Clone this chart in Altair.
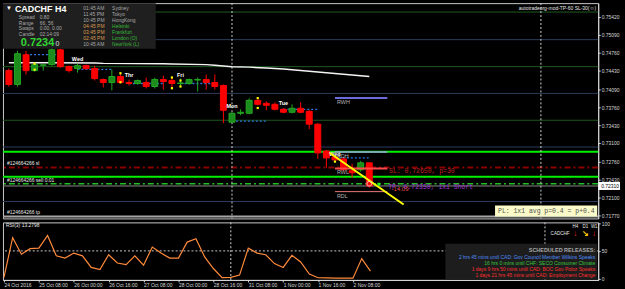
import altair as alt
import pandas as pd

SANS = "Liberation Sans"
MONO = "Liberation Mono"

# ---------------- data ----------------
BAR_IDX = list(range(43))
OPEN = [0.74430, 0.74175, 0.74722, 0.74430, 0.74530, 0.74540, 0.74813, 0.74503, 0.74467, 0.74521,
        0.74467, 0.74266, 0.74212, 0.74321, 0.74212, 0.74193, 0.74212, 0.74138, 0.74266, 0.74248,
        0.74193, 0.74193, 0.74257, 0.74266, 0.74212, 0.74157, 0.73482, 0.73646, 0.73646, 0.73884,
        0.73829, 0.73811, 0.73720, 0.73665, 0.73738, 0.73683, 0.73446, 0.72953, 0.72844, 0.72808,
        0.72589, 0.72607, 0.72735]
HIGH = [0.74467, 0.74795, 0.74795, 0.74576, 0.74558, 0.74868, 0.74831, 0.74521, 0.74558, 0.74540,
        0.74521, 0.74284, 0.74448, 0.74376, 0.74266, 0.74266, 0.74303, 0.74303, 0.74339, 0.74321,
        0.74284, 0.74284, 0.74303, 0.74357, 0.74357, 0.74175, 0.73665, 0.73720, 0.73920, 0.73902,
        0.73865, 0.73847, 0.73738, 0.73811, 0.73847, 0.73701, 0.73464, 0.72972, 0.72862, 0.72826,
        0.72716, 0.72771, 0.72735]
LOW = [0.74138, 0.74138, 0.74357, 0.74412, 0.74430, 0.74521, 0.74485, 0.74394, 0.74394, 0.74448,
       0.74248, 0.74120, 0.74066, 0.74193, 0.74157, 0.74175, 0.74102, 0.74102, 0.74084, 0.74102,
       0.74138, 0.74175, 0.74047, 0.74084, 0.74084, 0.73464, 0.73473, 0.73610, 0.73628, 0.73793,
       0.73701, 0.73701, 0.73646, 0.73646, 0.73646, 0.73354, 0.72808, 0.72644, 0.72789, 0.72589,
       0.72461, 0.72571, 0.72279]
CLOSE = [0.74175, 0.74740, 0.74430, 0.74540, 0.74535, 0.74813, 0.74503, 0.74430, 0.74521, 0.74467,
         0.74284, 0.74212, 0.74321, 0.74212, 0.74193, 0.74248, 0.74138, 0.74266, 0.74230, 0.74193,
         0.74203, 0.74266, 0.74266, 0.74212, 0.74138, 0.73701, 0.73646, 0.73665, 0.73884, 0.73811,
         0.73793, 0.73720, 0.73665, 0.73738, 0.73665, 0.73446, 0.72918, 0.72826, 0.72789, 0.72607,
         0.72552, 0.72735, 0.72310]

MA_IDX = [0, 5, 10, 11, 18, 19, 23, 24, 26, 28, 30, 32, 34, 36, 38, 40, 42]
MA_VAL = [0.74576, 0.74576, 0.74572, 0.74563, 0.74558, 0.74552, 0.74540, 0.74527, 0.74503,
          0.74494, 0.74476, 0.74458, 0.74430, 0.74403, 0.74376, 0.74349, 0.74321]

RSI_VAL = [2, 74, 44, 54, 55, 78, 41, 37, 46, 41, 20, 16, 43, 28, 25, 41, 24, 57, 46, 37,
           37, 66, 72, 39, 18, 1.5, 1.8, 6, 55, 46, 43, 27, 20, 42, 30, 8, 1.2, 0.9, 0.5, 0.4,
           0.4, 36, 13.28]

TICK_IDX = [0, 4, 8, 12, 16, 20, 24, 28, 32, 36, 40]
TICK_LABELS = ["24 Oct 2016", "25 Oct 08:00", "26 Oct 00:00", "26 Oct 16:00", "27 Oct 08:00",
               "28 Oct 00:00", "28 Oct 16:00", "31 Oct 08:00", "1 Nov 00:00", "1 Nov 16:00",
               "2 Nov 08:00"]
PRICE_TICKS = [0.75420, 0.75090, 0.74760, 0.74430, 0.74090, 0.73760, 0.73430, 0.73100,
               0.72760, 0.72430, 0.72100, 0.71770]
RSI_TICKS = [0, 50, 100]

PERIOD_SEPARATORS = [26, 62]
DARK_GREEN_LEVELS = [0.75506, 0.74503, 0.73518]
SLATE_LEVELS = [0.74999, 0.74011, 0.73026, 0.72024]
BRIGHT_GREEN_LEVELS = [0.72941, 0.72480]
SL_LEVEL = 0.72650
ENTRY_LEVEL = 0.72350
TP_LEVEL = 0.71750
BID = 0.72310

DAY_SEG_START = [2, 8, 14, 20, 26, 32, 38]
DAY_SEG_END = [6, 12, 18, 24, 30, 36, 42]
DAY_SEG_PRICE = [0.74722, 0.74454, 0.74193, 0.74193, 0.73500, 0.73719, 0.72826]

FRACTAL_IDX = [3, 3, 13, 13, 19, 19, 20, 20, 29, 29, 38]
FRACTAL_PRICE = [0.74558, 0.74448, 0.74381, 0.74217, 0.74303, 0.74107, 0.74248, 0.74138,
                 0.73925, 0.73743, 0.72758]

DAY_NAMES = ["Wed", "Thr", "Fri", "Mon", "Tue", "Wed"]
DAY_NAME_IDX = [8, 14, 20, 26, 32, 38]
DAY_NAME_PRICE = [0.74649, 0.74348, 0.74357, 0.73774, 0.73829, 0.72899]

RANGE_NAMES = ["RWH", "RDH", "RWL", "RDL"]
RANGE_PRICE = [0.73925, 0.72935, 0.72631, 0.72206]
RANGE_START = 38
RANGE_END = 44.1

TREND_IDX = [37.4, 46.0]
TREND_PRICE = [0.72917, 0.71969]
ENTRY_MARK_IDX = 42
ENTRY_MARK_PRICE = 0.72352
ARROW_IDX = 43.1
ARROW_PRICE = 0.72343

SL_TEXT = "SL: 0.72650, p=30"
TP_TEXT = "TP: 0.72350, 1x1 Short"
PNL_TEXT = "-14.09"
ORDER_LABELS = ["#124664266 sl", "#124664266 sell 0.01", "#124664266 tp"]

HUD_SYMBOL = "CADCHF  H4"
HUD_KEYS = ["Spread", "Range", "Swaps", "Candle"]
HUD_VALUES = ["0.80", "66, 56", "0.00, 0.00", "02:14:09"]
HUD_PRICE = "0.7234"
HUD_PRICE_LAST = "0"
HUD_TIMES = ["01:45 AM", "11:45 PM", "10:45 PM", "04:45 PM", "03:45 PM", "02:45 PM", "10:45 AM"]
HUD_CITIES = ["Sydney", "Tokyo", "HongKong", "Helsinki", "Frankfurt", "London  (O)", "NewYork  (L)"]
EA_TEXT = "autotradeorg-mod-TP-60 SL-30(\u263a)"
PL_TEXT = "PL: 1x1 avg p=0.4 = p+0.4"

RSI_TITLE = "RSI(3) 13.2798"
TF_NAMES = ["H4", "D1", "W1"]
TF_ARROWS = ["\u2193", "\u2198", "\u2193"]
RELEASES = ["SCHEDULED RELEASES:",
            "2 hrs 45 mins until CAD: Gov Council Member Wilkins Speaks",
            "16 hrs 0 mins until CHF: SECO Consumer Climate",
            "1 days 9 hrs 50 mins until CAD: BOC Gov Poloz Speaks",
            "1 days 21 hrs 45 mins until CAD: Employment Change"]

# ---------------- tables ----------------
candles = pd.DataFrame({"idx": BAR_IDX, "open": OPEN, "high": HIGH, "low": LOW, "close": CLOSE})
up = candles[candles["close"] >= candles["open"]]
down = candles[candles["close"] < candles["open"]]
ma = pd.DataFrame({"idx": MA_IDX, "p": MA_VAL})
rsi = pd.DataFrame({"idx": BAR_IDX, "v": RSI_VAL})
ONE = pd.DataFrame({"k": [0]})

W = 600
H_MAIN = 217
H_RSI = 58

X_SCALE = alt.Scale(domain=[-0.11, 68.1], nice=False, zero=False)
Y_SCALE = alt.Scale(domain=[0.71714, 0.75670], nice=False, zero=False)
R_SCALE = alt.Scale(domain=[-2.7, 101.8], nice=False, zero=False)

Y_AXIS = alt.Axis(orient="right", values=PRICE_TICKS, format=".5f", labelFontSize=5,
                  labelColor="#d8d8d8", tickColor="#d8d8d8", tickSize=2, labelPadding=1,
                  domainColor="#d8d8d8", title=None, grid=False, labelFont=SANS)
R_AXIS = alt.Axis(orient="right", values=RSI_TICKS, format="d", labelFontSize=5,
                  labelColor="#d8d8d8", tickColor="#d8d8d8", tickSize=2, labelPadding=1,
                  domainColor="#d8d8d8", title=None, grid=False, labelFont=SANS)
label_arr = "[" + ",".join("'" + s + "'" for s in TICK_LABELS) + "]"
X_AXIS_R = alt.Axis(values=TICK_IDX, labelExpr=label_arr + "[round(datum.value/4)]",
                    labelAlign="left", labelFlush=False, labelOverlap=False, labelFontSize=5,
                    labelColor="#d8d8d8", tickColor="#d8d8d8", tickSize=2, labelPadding=1,
                    domainColor="#d8d8d8", title=None, grid=False, labelFont=SANS)


def XM(f):
    return alt.X(f, type="quantitative", scale=X_SCALE, axis=None)


def YM(f):
    return alt.Y(f, type="quantitative", scale=Y_SCALE, axis=Y_AXIS)


def XR(f):
    return alt.X(f, type="quantitative", scale=X_SCALE, axis=X_AXIS_R)


def YR(f):
    return alt.Y(f, type="quantitative", scale=R_SCALE, axis=R_AXIS)


def hline(level, color, width=1.0, dash=None):
    kw = dict(color=color, strokeWidth=width)
    if dash:
        kw["strokeDash"] = dash
    return alt.Chart(pd.DataFrame({"p": [level]})).mark_rule(**kw).encode(y=YM("p"))


def ptext(s, x, y, color, size=5, weight="normal", align="left", font=SANS):
    return alt.Chart(ONE).mark_text(text=s, align=align, baseline="middle", fontSize=size,
                                    fontWeight=weight, color=color, font=font).encode(
        x=alt.value(x), y=alt.value(y))


def prect(x, x2, y, y2, color):
    return alt.Chart(ONE).mark_rect(color=color).encode(
        x=alt.value(x), x2=alt.value(x2), y=alt.value(y), y2=alt.value(y2))


# ---------------- main panel ----------------
L = []
for lv in DARK_GREEN_LEVELS:
    L.append(hline(lv, "#1f5a1f"))
for lv in SLATE_LEVELS:
    L.append(hline(lv, "#2c3d5e"))
for lv in BRIGHT_GREEN_LEVELS:
    L.append(hline(lv, "#00f000", 2))
L.append(hline(SL_LEVEL, "#8b0000", 2, [6, 3, 2, 3]))
L.append(hline(ENTRY_LEVEL, "#22c022", 1.5, [6, 3, 2, 3]))
L.append(hline(BID, "#8a8a8a", 1))
L.append(hline(TP_LEVEL, "#a8a8a8", 2))

L.append(alt.Chart(pd.DataFrame({"s": PERIOD_SEPARATORS})).mark_rule(
    color="#d0d0d0", strokeDash=[2, 2], strokeWidth=1).encode(x=XM("s")))

seg = pd.DataFrame({"s": DAY_SEG_START, "e": DAY_SEG_END, "p": DAY_SEG_PRICE})
L.append(alt.Chart(seg).mark_rule(color="#2a78e0", strokeDash=[2, 2], strokeWidth=1.3).encode(
    x=XM("s"), x2="e", y=YM("p")))

L.append(alt.Chart(ma).mark_line(color="#f4f4f4", strokeWidth=1.5, clip=True).encode(
    x=XM("idx"), y=YM("p")))

for df, fill, stroke in [(up, "#1c8c1c", "#22a822"), (down, "#ff0000", "#ff0000")]:
    L.append(alt.Chart(df).mark_rule(color=stroke, strokeWidth=1, clip=True).encode(
        x=XM("idx"), y=YM("low"), y2="high"))
    L.append(alt.Chart(df).mark_bar(size=6, color=fill, stroke=stroke, strokeWidth=1,
                                    clip=True).encode(x=XM("idx"), y=YM("open"), y2="close"))

frac = pd.DataFrame({"idx": FRACTAL_IDX, "p": FRACTAL_PRICE})
L.append(alt.Chart(frac).mark_square(size=5, color="#ffff00", opacity=1).encode(
    x=XM("idx"), y=YM("p")))

days = pd.DataFrame({"idx": DAY_NAME_IDX, "p": DAY_NAME_PRICE, "t": DAY_NAMES})
L.append(alt.Chart(days).mark_text(color="white", fontSize=5.5, fontWeight="bold", font=SANS,
                                   align="center", baseline="middle").encode(
    x=XM("idx"), y=YM("p"), text="t:N"))

range_colors = ["#6a6ad8", "#a0a0e8", "#ff4a4a", "#f07878"]
range_widths = [2, 1.5, 2, 1]
for nm, pr, col, wd in zip(RANGE_NAMES, RANGE_PRICE, range_colors, range_widths):
    d = pd.DataFrame({"s": [RANGE_START], "e": [RANGE_END], "p": [pr], "t": [nm]})
    L.append(alt.Chart(d).mark_rule(color=col, strokeWidth=wd).encode(
        x=XM("s"), x2="e", y=YM("p")))
    L.append(alt.Chart(d).mark_text(color="#b4b4b4", fontSize=5.5, font=SANS, align="left",
                                    baseline="middle", dx=2, dy=4).encode(
        x=XM("s"), y=YM("p"), text="t:N"))

trend = pd.DataFrame({"idx": TREND_IDX, "p": TREND_PRICE})
L.append(alt.Chart(trend).mark_line(color="#ffff00", strokeWidth=2, clip=True).encode(
    x=XM("idx"), y=YM("p")))

L.append(alt.Chart(pd.DataFrame({"idx": [ENTRY_MARK_IDX], "p": [ENTRY_MARK_PRICE]})).mark_point(
    shape="circle", size=22, color="#ffd0d0", filled=False, strokeWidth=1.2).encode(
    x=XM("idx"), y=YM("p")))
L.append(alt.Chart(pd.DataFrame({"idx": [ARROW_IDX], "p": [ARROW_PRICE]})).mark_square(
    size=8, color="#20ff20", opacity=1).encode(x=XM("idx"), y=YM("p")))

tx = pd.DataFrame({"idx": [44.3, 44.2, 44.6], "p": [0.72589, 0.72290, 0.72262],
                   "t": [SL_TEXT, TP_TEXT, PNL_TEXT]})
L.append(alt.Chart(tx.iloc[[0]]).mark_text(color="#c42424", fontSize=6.5, font=MONO,
                                           align="left", baseline="middle").encode(
    x=XM("idx"), y=YM("p"), text="t:N"))
L.append(alt.Chart(tx.iloc[[1]]).mark_text(color="#a238d6", fontSize=6.5, font=MONO,
                                           align="left", baseline="middle").encode(
    x=XM("idx"), y=YM("p"), text="t:N"))
L.append(alt.Chart(tx.iloc[[2]]).mark_text(color="#e04848", fontSize=6, font=SANS,
                                           align="left", baseline="middle").encode(
    x=XM("idx"), y=YM("p"), text="t:N"))

orders = pd.DataFrame({"p": [SL_LEVEL, ENTRY_LEVEL, TP_LEVEL], "t": ORDER_LABELS})
L.append(alt.Chart(orders).mark_text(color="#e8e8e8", fontSize=5, font=SANS, align="left",
                                     baseline="middle", dy=-4).encode(
    x=alt.value(4), y=YM("p"), text="t:N"))

# bid label on price axis
L.append(alt.Chart(pd.DataFrame({"p": [BID]})).mark_rule(color="white", strokeWidth=8,
                                                          strokeCap="butt").encode(
    x=alt.value(600), x2=alt.value(622), y=YM("p")))
L.append(alt.Chart(pd.DataFrame({"p": [BID]})).mark_text(
    text=f"{BID:.5f}", color="black", fontSize=5, font=SANS, align="left",
    baseline="middle").encode(x=alt.value(603), y=YM("p")))

# HUD panel
L.append(prect(0, 154, 0, 46, "#1f1f1f"))
L.append(ptext("\u25bc", 6, 5, "white", 6, align="center"))
L.append(ptext(HUD_SYMBOL, 12, 5.5, "white", 9, "bold"))
for i, (k, v) in enumerate(zip(HUD_KEYS, HUD_VALUES)):
    yy = [14, 20, 25.5, 31][i]
    L.append(ptext(k, 16, yy, "#a8a8a8", 5))
    L.append(ptext(v, 37, yy, "#a8a8a8", 5))
L.append(ptext(HUD_PRICE, 18, 40, "#33d633", 11, "bold"))
L.append(ptext(HUD_PRICE_LAST, 53, 41, "#e0e0e0", 7))
time_cols = ["#a8a8a8", "#a8a8a8", "#a8a8a8", "#d89a50", "#d89a50", "#d89a50", "#a8a8a8"]
city_cols = ["#a8a8a8", "#a8a8a8", "#a8a8a8", "#38b838", "#38b838", "#38b838", "#38b838"]
row_y = [5, 11.2, 17.3, 23.3, 29.3, 35.5, 41.6]
for t, c, yy, tc, cc in zip(HUD_TIMES, HUD_CITIES, row_y, time_cols, city_cols):
    L.append(ptext(t, 81, yy, tc, 5))
    L.append(ptext(c, 110, yy, cc, 5))

L.append(ptext(EA_TEXT, 598, 5, "#e8e8e8", 5, align="right"))

L.append(prect(496, 599, 204, 215, "#fafac8"))
L.append(ptext(PL_TEXT, 499, 209.5, "#505050", 6.5, font=MONO))

main = alt.layer(*L).properties(width=W, height=H_MAIN)

# ---------------- RSI panel ----------------
R = []
R.append(alt.Chart(pd.DataFrame({"v": [50]})).mark_rule(
    color="#c8c8c8", strokeDash=[2, 2], strokeWidth=1).encode(y=YR("v")))
R.append(alt.Chart(pd.DataFrame({"s": PERIOD_SEPARATORS})).mark_rule(
    color="#d0d0d0", strokeDash=[2, 2], strokeWidth=1).encode(x=XR("s")))
R.append(alt.Chart(rsi).mark_line(color="#ff8a3a", strokeWidth=1.2, clip=True).encode(
    x=XR("idx"), y=YR("v")))
R.append(ptext(RSI_TITLE, 3, 2.8, "#e8e8e8", 5))
for nm, ar, xx, ac in zip(TF_NAMES, TF_ARROWS, [577, 587, 596], ["#ff2020", "#ffd000", "#ff2020"]):
    R.append(ptext(nm, xx, 5, "#e8e8e8", 4.5, align="center"))
    R.append(ptext(ar, xx, 11.5, ac, 8, "bold", align="center"))
R.append(ptext("CADCHF", 552, 11.5, "#e8e8e8", 4.6))
R.append(prect(446, 599, 21.5, 57.5, "#1d1d1d"))
rel_cols = ["#a8a8a8", "#4f8cf5", "#3cc23c", "#ff2e2e", "#ff2e2e"]
rel_y = [27.5, 34.5, 40.5, 47, 53.5]
for i, (s, c, yy) in enumerate(zip(RELEASES, rel_cols, rel_y)):
    R.append(ptext(s, 597, yy, c, 5.5 if i == 0 else 5, "bold" if i == 0 else "normal",
                   align="right"))

rsi_chart = alt.layer(*R).properties(width=W, height=H_RSI)

chart = alt.vconcat(main, rsi_chart, spacing=1).properties(
    background="black",
    padding={"left": 1, "top": 1, "right": 0, "bottom": 0},
).configure_view(stroke="#c8c8c8", strokeWidth=1).configure_axis(grid=False)

chart.save("out.html", embed_options={"renderer": "svg", "actions": False})
